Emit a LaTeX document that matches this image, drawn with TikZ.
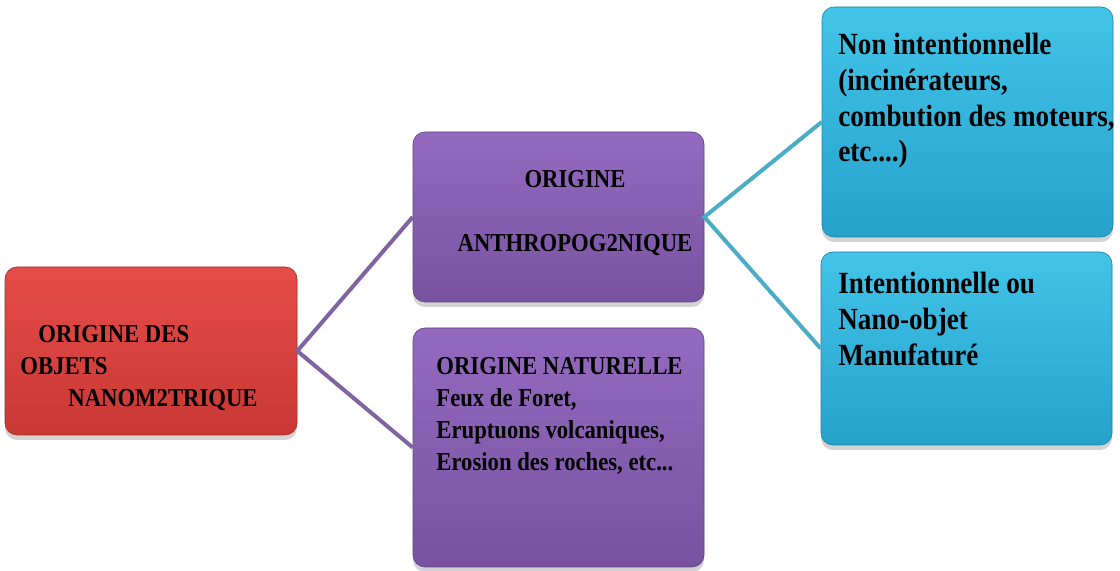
\documentclass[tikz,border=0pt]{standalone}
\usepackage{fontspec}
\setmainfont[FakeStretch=0.88]{Liberation Serif}
\usetikzlibrary{shadows}
\definecolor{redtop}{RGB}{230,76,72}
\definecolor{redbot}{RGB}{200,56,52}
\definecolor{purtop}{RGB}{148,106,192}
\definecolor{purbot}{RGB}{120,82,160}
\definecolor{blutop}{RGB}{66,196,232}
\definecolor{blubot}{RGB}{38,162,204}
\definecolor{purline}{RGB}{128,100,162}
\definecolor{bluline}{RGB}{75,172,198}
\newcommand\tightspace{\spaceskip=0.22em plus 0.05em\relax}
\begin{document}
\begin{tikzpicture}[x=0.5pt, y=-0.5pt,
    box/.style={rectangle, rounded corners=6pt, inner sep=0pt, minimum width=145.5pt,
        drop shadow={opacity=0.35, shadow xshift=0pt, shadow yshift=-2.5pt}},
    redbox/.style={box, top color=redtop, bottom color=redbot, draw=redbot!80!black, line width=0.3pt},
    purbox/.style={box, top color=purtop, bottom color=purbot, draw=purbot!80!black, line width=0.3pt},
    blubox/.style={box, top color=blutop, bottom color=blubot, draw=blubot!80!black, line width=0.3pt},
    txt/.style={inner sep=0pt, text width=150pt, align=left, execute at begin node=\tightspace,
        font=\bfseries\fontsize{12.9}{16}\selectfont},
    bigtxt/.style={txt, font=\bfseries\fontsize{15.4}{17.8}\selectfont}]
    \useasboundingbox (0,0) rectangle (1120,571);
    \node at (151,351) (orig) [redbox, minimum width=146pt, minimum height=84pt] {};
    \node at (558.5,217) (anthro) [purbox, minimum height=85pt] {};
    \node at (558.5,447.5) (natur) [purbox, minimum height=119.5pt] {};
    \node at (967.5,122) (nonint) [blubox, minimum height=115pt] {};
    \node at (966.5,348.5) (intent) [blubox, minimum height=96.5pt] {};
    \draw[purline, line width=2pt] (anthro.west) -- (orig.east) -- (natur.west);
    \draw[bluline, line width=2pt] (nonint.west) -- (anthro.east) -- (intent.west);
    \node at (20,343) (orig-txt) [txt, anchor=base west]
        {\hspace*{9pt}ORIGINE DES\\OBJETS\\\hspace*{24pt}NANOM2TRIQUE};
    \node at (575,188) (anthro-txt) [txt, anchor=base, align=center, font=\bfseries\fontsize{12.9}{32}\selectfont]
        {ORIGINE\\ANTHROPOG2NIQUE};
    \node at (436,375) (natur-txt) [txt, anchor=base west]
        {ORIGINE NATURELLE\\Feux de Foret,\\Eruptuons volcaniques,\\Erosion des roches, etc...};
    \node at (838,55) (nonint-txt) [bigtxt, anchor=base west]
        {Non intentionnelle\\(incinérateurs,\\combution des moteurs,\\etc....)};
    \node at (838,294) (intent-txt) [bigtxt, anchor=base west]
        {Intentionnelle ou\\Nano-objet\\Manufaturé};
\end{tikzpicture}
\end{document}
